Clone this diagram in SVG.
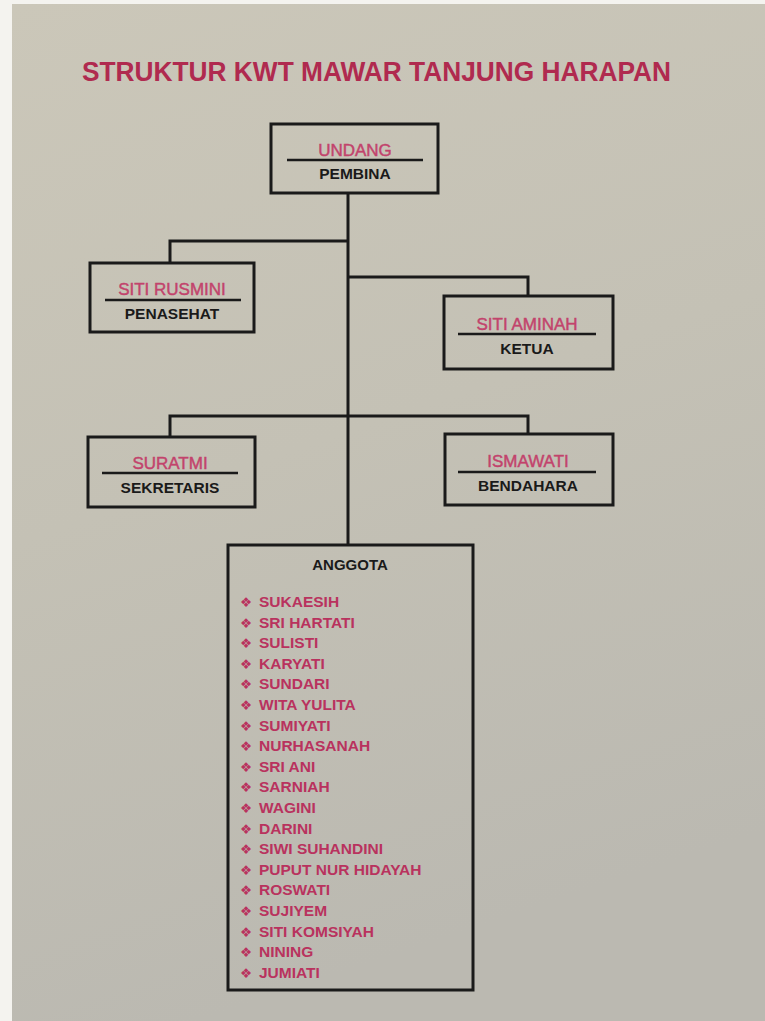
<svg xmlns="http://www.w3.org/2000/svg" width="765" height="1021" viewBox="0 0 765 1021">
  <defs>
    <linearGradient id="paper" x1="0" y1="0" x2="0.25" y2="1">
      <stop offset="0" stop-color="#cbc7b9"/>
      <stop offset="0.5" stop-color="#c4c1b5"/>
      <stop offset="1" stop-color="#bbb9b1"/>
    </linearGradient>
    <style>
      .box{fill:none;stroke:#1a1a1a;stroke-width:3}
      .sep{stroke:#1a1a1a;stroke-width:2.5}
      .con{fill:none;stroke:#1a1a1a;stroke-width:3;stroke-linejoin:miter}
      .name{font-family:"Liberation Sans",Arial,sans-serif;font-size:17px;fill:#c2436c;stroke:#c2436c;stroke-width:0.45;text-anchor:middle}
      .role{font-family:"Liberation Sans",Arial,sans-serif;font-size:15.5px;font-weight:bold;fill:#1a1a1a;text-anchor:middle}
      .item{font-family:"Liberation Sans",Arial,sans-serif;font-size:15.5px;font-weight:bold;fill:#b9325e}
      .bul{font-family:"DejaVu Sans",sans-serif;font-size:13.5px;fill:#b9325e;text-anchor:middle}
      .title{font-family:"Liberation Sans",Arial,sans-serif;font-size:27px;font-weight:bold;fill:#b02a4f}
    </style>
  </defs>
  <rect x="0" y="0" width="765" height="1021" fill="#f4f3ef"/>
  <rect x="12" y="4" width="753" height="1017" fill="url(#paper)"/>

  <text class="title" x="82" y="81" textLength="589" lengthAdjust="spacingAndGlyphs">STRUKTUR KWT MAWAR TANJUNG HARAPAN</text>

  <g id="connectors">
    <path class="con" d="M348 193 V545"/>
    <path class="con" d="M348 241 H170 V263"/>
    <path class="con" d="M348 277 H528 V296"/>
    <path class="con" d="M170 437 V416 H528 V434"/>
  </g>

  <g id="pembina">
    <rect class="box" x="271" y="124" width="167" height="69"/>
    <line class="sep" x1="287" y1="160" x2="423" y2="160"/>
    <text class="name" x="355" y="156">UNDANG</text>
    <text class="role" x="355" y="179">PEMBINA</text>
  </g>

  <g id="penasehat">
    <rect class="box" x="90" y="263" width="164" height="69"/>
    <line class="sep" x1="105" y1="300" x2="241" y2="300"/>
    <text class="name" x="172" y="295">SITI RUSMINI</text>
    <text class="role" x="172" y="319">PENASEHAT</text>
  </g>

  <g id="ketua">
    <rect class="box" x="444" y="296" width="169" height="73"/>
    <line class="sep" x1="458" y1="334" x2="596" y2="334"/>
    <text class="name" x="527" y="330">SITI AMINAH</text>
    <text class="role" x="527" y="354">KETUA</text>
  </g>

  <g id="sekretaris">
    <rect class="box" x="88" y="437" width="167" height="70"/>
    <line class="sep" x1="102" y1="473" x2="238" y2="473"/>
    <text class="name" x="170" y="469">SURATMI</text>
    <text class="role" x="170" y="493">SEKRETARIS</text>
  </g>

  <g id="bendahara">
    <rect class="box" x="445" y="434" width="168" height="71"/>
    <line class="sep" x1="458" y1="472" x2="596" y2="472"/>
    <text class="name" x="528" y="467">ISMAWATI</text>
    <text class="role" x="528" y="491">BENDAHARA</text>
  </g>

  <g id="anggota">
    <rect class="box" x="228" y="545" width="245" height="445"/>
    <text class="role" x="350" y="570" style="font-size:15px">ANGGOTA</text>
    <g class="bul">
      <text x="246" y="607">❖</text>
      <text x="246" y="627.6">❖</text>
      <text x="246" y="648.2">❖</text>
      <text x="246" y="668.8">❖</text>
      <text x="246" y="689.4">❖</text>
      <text x="246" y="710">❖</text>
      <text x="246" y="730.6">❖</text>
      <text x="246" y="751.2">❖</text>
      <text x="246" y="771.8">❖</text>
      <text x="246" y="792.4">❖</text>
      <text x="246" y="813">❖</text>
      <text x="246" y="833.6">❖</text>
      <text x="246" y="854.2">❖</text>
      <text x="246" y="874.8">❖</text>
      <text x="246" y="895.4">❖</text>
      <text x="246" y="916">❖</text>
      <text x="246" y="936.6">❖</text>
      <text x="246" y="957.2">❖</text>
      <text x="246" y="977.8">❖</text>
    </g>
    <g class="item">
      <text x="259" y="607">SUKAESIH</text>
      <text x="259" y="627.6">SRI HARTATI</text>
      <text x="259" y="648.2">SULISTI</text>
      <text x="259" y="668.8">KARYATI</text>
      <text x="259" y="689.4">SUNDARI</text>
      <text x="259" y="710">WITA YULITA</text>
      <text x="259" y="730.6">SUMIYATI</text>
      <text x="259" y="751.2">NURHASANAH</text>
      <text x="259" y="771.8">SRI ANI</text>
      <text x="259" y="792.4">SARNIAH</text>
      <text x="259" y="813">WAGINI</text>
      <text x="259" y="833.6">DARINI</text>
      <text x="259" y="854.2">SIWI SUHANDINI</text>
      <text x="259" y="874.8">PUPUT NUR HIDAYAH</text>
      <text x="259" y="895.4">ROSWATI</text>
      <text x="259" y="916">SUJIYEM</text>
      <text x="259" y="936.6">SITI KOMSIYAH</text>
      <text x="259" y="957.2">NINING</text>
      <text x="259" y="977.8">JUMIATI</text>
    </g>
  </g>
</svg>
